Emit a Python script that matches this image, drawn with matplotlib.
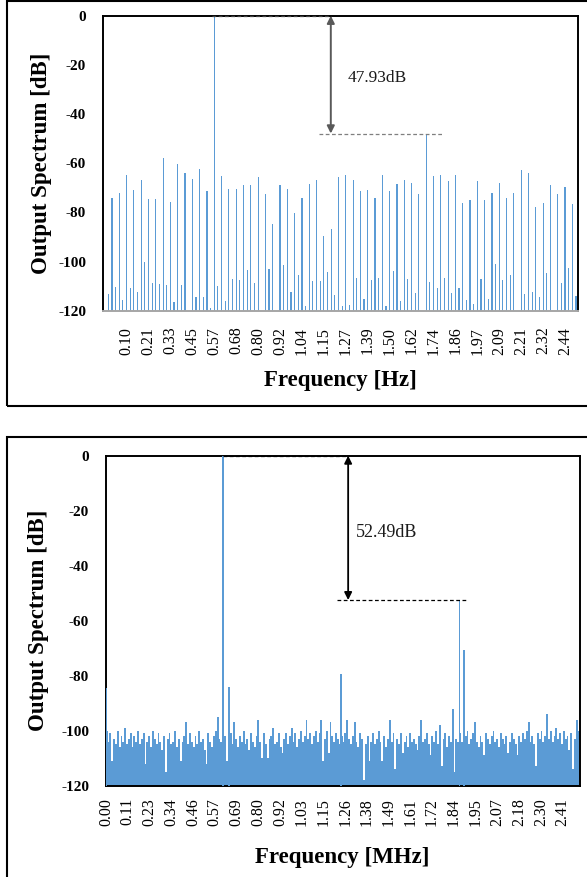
import numpy as np
import matplotlib
matplotlib.use("Agg")
import matplotlib.pyplot as plt
from matplotlib.patches import Rectangle

plt.rcParams['font.family'] = ['Liberation Serif', 'DejaVu Serif']
plt.rcParams['axes.unicode_minus'] = False

BAR = '#5B9BD5'

# ---------------- data: top chart (Hz) ----------------
top_values = [
    -120, -113.4, -74.3, -110.2, -72.0, -115.7, -64.8, -110.6, -70.9, -112.3,
    -66.8, -100.3, -74.7, -108.6, -74.7, -109.2, -57.8, -109.6, -75.8, -116.6,
    -60.5, -109.6, -64.1, -120, -66.4, -114.4, -62.5, -114.4, -71.3, -118.9,
    0.0, -109.9, -65.2, -116.1, -70.5, -107.0, -70.5, -107.5, -68.9, -103.5,
    -68.9, -108.6, -65.7, -120, -72.7, -103.1, -84.6, -120, -68.9, -101.4,
    -70.5, -112.3, -80.3, -105.5, -74.3, -118.2, -68.5, -108.0, -66.8, -108.0,
    -89.6, -104.3, -86.9, -113.8, -65.7, -118.2, -64.8, -117.5, -66.8, -106.6,
    -71.2, -115.1, -70.9, -107.5, -74.3, -106.8, -64.8, -118.2, -71.3, -103.9,
    -68.5, -116.2, -66.8, -107.0, -68.1, -112.6, -72.4, -120, -47.93, -108.4,
    -65.2, -110.6, -64.8, -106.6, -67.2, -112.6, -64.8, -110.6, -76.3, -115.7,
    -75.1, -117.3, -67.2, -107.0, -75.1, -115.1, -72.0, -101.1, -68.1, -107.5,
    -74.3, -105.5, -72.0, -120, -62.9, -113.4, -64.0, -112.3, -77.8, -114.4,
    -76.0, -104.8, -68.9, -120, -72.7, -108.7, -69.7, -102.6, -76.6, -114.0,
]
top_tick_labels = ['0.10', '0.21', '0.33', '0.45', '0.57', '0.68', '0.80',
                   '0.92', '1.04', '1.15', '1.27', '1.39', '1.50', '1.62',
                   '1.74', '1.86', '1.97', '2.09', '2.21', '2.32', '2.44']
top_tick_every = 6
top_diff_label = '47.93dB'
top_spur_level = -47.93

# ---------------- data: bottom chart (MHz) ----------------
bottom_nbins = 1024
noise_values = [
    -100, -104, -101, -111, -103, -105, -100, -106, -102, -104, -99, -105, -103, -101, -106, -102,
    -104, -100, -105, -103, -101, -112, -104, -102, -106, -100, -103, -105, -101, -104, -107, -102,
    -115, -103, -101, -105, -104, -100, -106, -103, -111, -104, -102, -97, -105, -101, -104, -106,
    -102, -105, -100, -104, -103, -107, -112, -101, -104, -106, -102, -100, -95, -103, -104, -105,
    -102, -111, -104, -101, -105, -97, -103, -106, -102, -104, -100, -105, -103, -107, -101, -104,
    -106, -102, -96, -104, -110, -101, -105, -110, -103, -102, -99, -105, -104, -101, -106, -108,
    -103, -101, -105, -102, -99, -104, -101, -106, -103, -100, -104, -102, -96, -103, -101, -105,
    -102, -100, -104, -101, -96, -111, -103, -100, -108, -97, -102, -104, -101, -103, -105, -102,
    -104, -101, -96, -103, -105, -102, -97, -104, -106, -101, -103, -118, -105, -102, -111, -104,
    -101, -105, -103, -100, -104, -111, -102, -106, -103, -96, -104, -101, -114, -103, -105, -101,
    -108, -104, -102, -106, -101, -104, -103, -105, -107, -102, -96, -104, -103, -101, -105, -109,
    -102, -104, -100, -105, -98, -113, -103, -101, -106, -102, -104, -92, -115, -103, -104, -101,
    -104, -109, -102, -100, -105, -103, -101, -97, -104, -106, -102, -104, -109, -101, -103, -105,
    -102, -100, -104, -103, -106, -101, -103, -105, -102, -108, -104, -101, -103, -105, -109, -102,
    -104, -101, -103, -100, -97, -104, -102, -105, -113, -101, -103, -100, -104, -102, -94, -103,
    -100, -104, -102, -99, -103, -101, -105, -100, -103, -102, -107, -101, -114, -103, -96, -100,
]
spur_bins = [0, 253, 266, 508, 765, 774]
spur_values = [-84.5, 0.0, -84.0, -79.5, -52.49, -70.7]
bottom_tick_labels = ['0.00', '0.11', '0.23', '0.34', '0.46', '0.57', '0.69',
                      '0.80', '0.92', '1.03', '1.15', '1.26', '1.38', '1.49',
                      '1.61', '1.72', '1.84', '1.95', '2.07', '2.18', '2.30', '2.41']
bottom_tick_every = 47
bottom_diff_label = '52.49dB'
bottom_spur_level = -52.49

yticks = [0, -20, -40, -60, -80, -100, -120]
FLOOR = -120

fig = plt.figure(figsize=(5.87, 8.77), dpi=100)

# outer chart frames
fig.add_artist(Rectangle((7 / 587, 1 - 406 / 877), 1.1, 405 / 877, transform=fig.transFigure,
                         fill=False, lw=1.5, ec='black', clip_on=False))
fig.add_artist(Rectangle((7 / 587, -0.05), 1.1, 0.05 + 1 - 437 / 877, transform=fig.transFigure,
                         fill=False, lw=1.5, ec='black', clip_on=False))


def style_axes(ax, bottom_color):
    ax.set_ylim(-120, 0)
    ax.set_yticks(yticks)
    ax.set_yticklabels([str(v) for v in yticks], fontsize=11, fontweight='bold')
    for s in ['left', 'top', 'right']:
        ax.spines[s].set_color('black')
        ax.spines[s].set_linewidth(1.4)
    ax.spines['bottom'].set_color(bottom_color)
    ax.spines['bottom'].set_linewidth(1.4)
    ax.tick_params(axis='y', length=0, pad=12)


# ---------------- top chart ----------------
ax1 = fig.add_axes([102.8 / 587, 1 - 310.7 / 877, 475 / 587, 295 / 877])
n_top = len(top_values)
xt = np.arange(n_top)
ax1.bar(xt, np.array(top_values) - FLOOR, bottom=FLOOR, width=0.32, color=BAR, linewidth=0)
ax1.set_xlim(-0.5, n_top - 0.5)
tpos = np.arange(1, len(top_tick_labels) + 1) * top_tick_every
ax1.set_xticks(tpos)
ax1.set_xticklabels(top_tick_labels, rotation=90, fontsize=11.5)
ax1.tick_params(axis='x', length=0, pad=11.5)
style_axes(ax1, '#A6A6A6')

fund_top = int(np.argmax(top_values))
ax1.plot([fund_top - 0.5, 61.9], [0, 0], ls=(0, (3, 2)), color='#404040', lw=0.9, zorder=5, clip_on=False)
ax1.plot([58.7, 92.6], [top_spur_level, top_spur_level], ls=(0, (3, 2)), color='#7F7F7F', lw=0.9, zorder=5)
ax1.annotate('', xy=(61.9, top_spur_level), xytext=(61.9, 0),
             arrowprops=dict(arrowstyle='<|-|>', color='#595959', lw=1.4, mutation_scale=11,
                             shrinkA=0, shrinkB=0), zorder=6)
ax1.text(66.6, -25.3, top_diff_label, fontsize=12.5, va='center', ha='left', color='#1a1a1a')
ax1.text(-0.128, 0.5, 'Output Spectrum [dB]', transform=ax1.transAxes, rotation=90,
         ha='center', va='center', fontsize=16.5, fontweight='bold')
ax1.text(0.5, -0.235, 'Frequency [Hz]', transform=ax1.transAxes,
         ha='center', va='center', fontsize=16.5, fontweight='bold')

# ---------------- bottom chart ----------------
ax2 = fig.add_axes([105.7 / 587, 1 - 785.7 / 877, 473.8 / 587, 330 / 877])
n_noise = len(noise_values)
grp = bottom_nbins // n_noise
xn = np.arange(n_noise) * grp + (grp - 1) / 2
ax2.bar(xn, np.array(noise_values) - FLOOR, bottom=FLOOR, width=grp, color=BAR, linewidth=0)
ax2.bar(spur_bins, np.array(spur_values) - FLOOR, bottom=FLOOR, width=2.5, color=BAR,
        linewidth=0, zorder=3)
ax2.set_xlim(-0.5, bottom_nbins - 0.5)
bpos = np.arange(len(bottom_tick_labels)) * bottom_tick_every
ax2.set_xticks(bpos)
ax2.set_xticklabels(bottom_tick_labels, rotation=90, fontsize=11.5)
ax2.tick_params(axis='x', length=0, pad=9)
style_axes(ax2, 'black')

fund_bot = spur_bins[int(np.argmax(spur_values))]
ax2.plot([fund_bot, 523.5], [0, 0], ls=(0, (3, 2)), color='black', lw=0.9, zorder=5, clip_on=False)
ax2.plot([499.7, 781], [bottom_spur_level, bottom_spur_level], ls=(0, (3, 2)), color='black', lw=0.9, zorder=5)
ax2.annotate('', xy=(523.5, bottom_spur_level), xytext=(523.5, 0),
             arrowprops=dict(arrowstyle='<|-|>', color='black', lw=1.3, mutation_scale=11,
                             shrinkA=0, shrinkB=0), zorder=6)
ax2.text(540, -28.1, bottom_diff_label, fontsize=13, va='center', ha='left', color='#1a1a1a')
ax2.text(-0.141, 0.5, 'Output Spectrum [dB]', transform=ax2.transAxes, rotation=90,
         ha='center', va='center', fontsize=16.5, fontweight='bold')
ax2.text(0.5, -0.219, 'Frequency [MHz]', transform=ax2.transAxes,
         ha='center', va='center', fontsize=16.5, fontweight='bold')

fig.savefig('out.png', dpi=100)
